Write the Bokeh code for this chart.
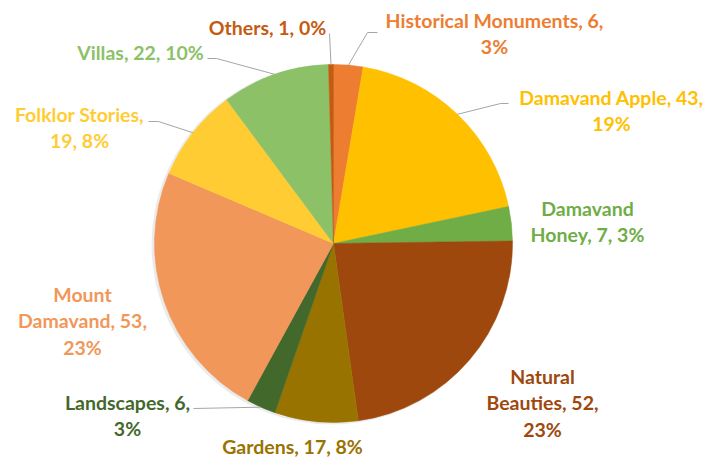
import numpy as np
from bokeh.plotting import figure
from bokeh.models import Range1d, ColumnDataSource
from bokeh.core.properties import value
from bokeh.embed import file_html
from bokeh.resources import INLINE

# ---- data ----
categories = ["Historical Monuments", "Damavand Apple", "Damavand Honey", "Natural Beauties",
              "Gardens", "Landscapes", "Mount Damavand", "Folklor Stories", "Villas", "Others"]
counts = [6, 43, 7, 52, 17, 6, 53, 19, 22, 1]
colors = ["#ED7D31", "#FFC000", "#70AD47", "#9E480E", "#997300",
          "#43682B", "#F1975A", "#FFCD33", "#8CC168", "#C55A11"]

# ---- layout (screen pixel positions) ----
W, H = 705, 460
def X(sx): return sx
def Y(sy): return H - sy

CX, CY, R = X(333), Y(243), 179
label_words = [[3, 1], [3, 1], [1, 3], [1, 2, 1], [3], [2, 1], [1, 2, 1], [2, 2], [3], [3]]
label_x = [494, 611, 587, 542, 292, 127, 82, 79, 140, 267]
label_y0 = [20, 97, 208, 376, 446, 402, 294, 114, 52, 27]
LINE = 26.3
leaders = {
    "Others": [(329, 33)],
    "Historical Monuments": [(367, 32), (377, 32)],
    "Villas": [(216, 58), (207, 58)],
    "Folklor Stories": [(158, 121), (148, 121)],
    "Damavand Apple": [(500, 103), (508, 103)],
    "Landscapes": [(193, 408)],
}

total = sum(counts)
cum = np.concatenate([[0], np.cumsum(counts)])
start = np.pi / 2 - 2 * np.pi * cum[:-1] / total
end = np.pi / 2 - 2 * np.pi * cum[1:] / total
mid = np.pi / 2 - 2 * np.pi * (cum[:-1] + np.array(counts) / 2) / total

p = figure(width=W, height=H, x_range=Range1d(0, W), y_range=Range1d(0, H),
           output_backend="svg", toolbar_location=None, min_border=0)
p.axis.visible = False
p.grid.visible = False
p.outline_line_color = None
p.background_fill_color = "white"

# soft shadow
p.circle(x=[CX - 2], y=[CY - 1], radius=R + 1, fill_color="#000000", fill_alpha=0.08, line_color=None)

src = ColumnDataSource(dict(start=start, end=end, color=colors))
p.wedge(x=CX, y=CY, radius=R, start_angle="start", end_angle="end", direction="clock",
        fill_color="color", line_color="color", line_width=0.5, source=src)

# leader lines
for i, cat in enumerate(categories):
    if cat in leaders:
        xs = [CX + R * np.cos(mid[i])] + [X(a) for a, b in leaders[cat]]
        ys = [CY + R * np.sin(mid[i])] + [Y(b) for a, b in leaders[cat]]
        p.line(xs, ys, line_color="#A6A6A6", line_width=1)

# labels
tx, ty, tt, tc = [], [], [], []
for i, cat in enumerate(categories):
    pct = int(round(100 * counts[i] / total))
    words = f"{cat}, {counts[i]}, {pct}%".split(" ")
    k = 0
    for j, n in enumerate(label_words[i]):
        tt.append(" ".join(words[k:k + n]))
        k += n
        tx.append(X(label_x[i]))
        ty.append(Y(label_y0[i] + j * LINE))
        tc.append(colors[i])

p.text(x=tx, y=ty, text=tt, text_color=tc, text_font=value("Lato"), text_font_style="bold",
       text_font_size="19.5px", text_align="center", text_baseline="middle")

open("out.html", "w").write(file_html(p, INLINE))
